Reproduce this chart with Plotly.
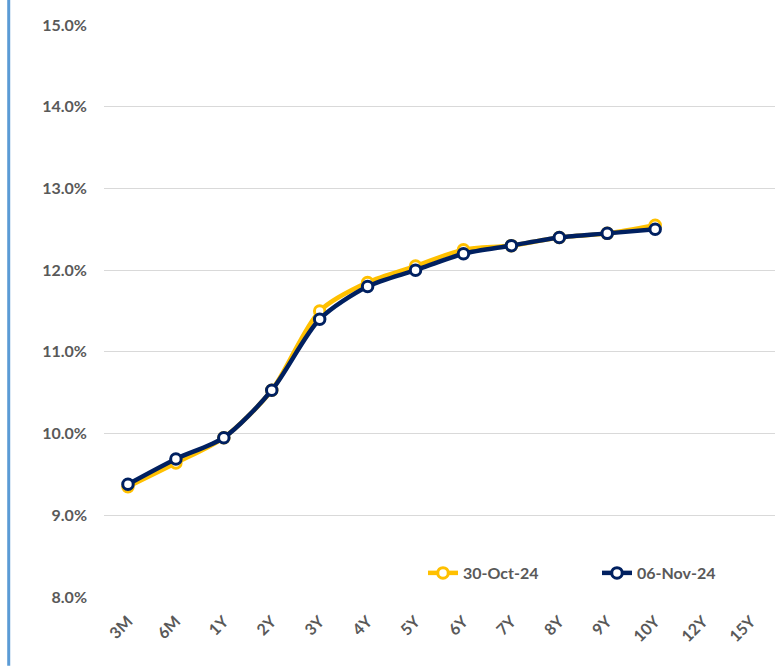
import plotly.graph_objects as go

tenors = ["3M", "6M", "1Y", "2Y", "3Y", "4Y", "5Y", "6Y", "7Y", "8Y", "9Y", "10Y", "12Y", "15Y"]
oct30 = [9.35, 9.64, 9.95, 10.53, 11.50, 11.85, 12.05, 12.25, 12.30, 12.40, 12.45, 12.55, None, None]
nov06 = [9.38, 9.69, 9.95, 10.53, 11.40, 11.80, 12.00, 12.20, 12.30, 12.40, 12.45, 12.50, None, None]

gray = "#595959"
font_family = "Lato, 'Open Sans', sans-serif"

fig = go.Figure()
fig.add_trace(go.Scatter(
    x=tenors, y=oct30, name="30-Oct-24", mode="lines+markers", legend="legend",
    line=dict(color="#FFC000", width=4.5, shape="spline", smoothing=0.8),
    marker=dict(symbol="circle", size=10.5, color="white", line=dict(color="#FFC000", width=3)),
))
fig.add_trace(go.Scatter(
    x=tenors, y=nov06, name="06-Nov-24", mode="lines+markers", legend="legend2",
    line=dict(color="#002060", width=4.5, shape="spline", smoothing=0.8),
    marker=dict(symbol="circle", size=10.5, color="white", line=dict(color="#002060", width=3)),
))

legend_style = dict(
    orientation="h", y=0.042, xanchor="left", yanchor="middle",
    font=dict(size=16, color=gray, family=font_family, weight="bold"),
    bgcolor="rgba(0,0,0,0)", itemwidth=30,
)

fig.update_layout(
    width=783, height=666,
    margin=dict(l=104, r=8, t=25, b=69),
    paper_bgcolor="white", plot_bgcolor="white",
    font=dict(family=font_family, color=gray),
    showlegend=True,
    legend=dict(x=0.4754, **legend_style),
    legend2=dict(x=0.7347, **legend_style),
    xaxis=dict(
        type="category", categoryorder="array", categoryarray=tenors,
        range=[-0.5, len(tenors) - 0.5],
        tickangle=-45, showgrid=False, showline=False, zeroline=False,
        tickfont=dict(size=16, color=gray, family=font_family, weight="bold"),
        ticks="", ticklabelstandoff=11,
    ),
    yaxis=dict(
        range=[8, 15], dtick=1, tick0=8,
        tickformat=".1f", ticksuffix="%",
        showgrid=True, gridcolor="#D9D9D9", gridwidth=1,
        zeroline=False, showline=False, ticks="",
        tickfont=dict(size=16, color=gray, family=font_family, weight="bold"),
        ticklabelstandoff=16,
    ),
    shapes=[dict(type="line", xref="paper", yref="paper",
                 x0=-0.142, x1=-0.142, y0=-0.12, y1=1.05,
                 line=dict(color="#5B9BD5", width=3))],
)

fig.write_html("out.html", config={"displayModeBar": False},
               post_script="document.body.style.margin='0';")
